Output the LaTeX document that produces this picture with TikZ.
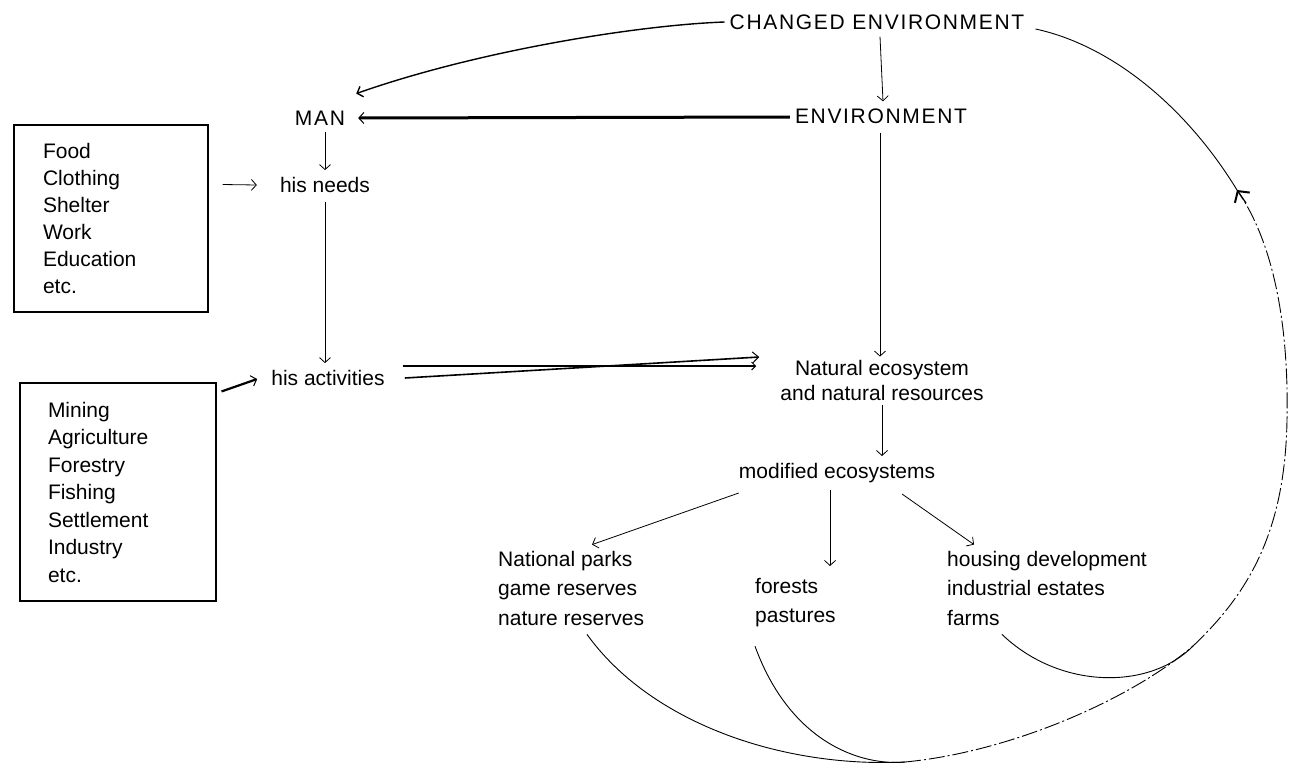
\documentclass[tikz,border=0pt]{standalone}
\usepackage{fontspec}
\setmainfont{Liberation Sans}
\newfontfamily\capsfont[LetterSpace=8]{Liberation Sans}
\usetikzlibrary{arrows.meta,calc}
\begin{document}
\begin{tikzpicture}[x=1pt,y=-1pt,
  lbl/.style={inner sep=1pt,font=\fontsize{21}{27}\selectfont},
  caplbl/.style={inner sep=1pt,font=\capsfont\fontsize{21}{25}\selectfont},
  listbox/.style={draw,line width=1.1pt,align=left,font=\fontsize{21}{27}\selectfont,inner ysep=0pt},
  arr/.style={line width=0.8pt,-{Straight Barb[length=5pt,width=11pt]}},
  thickarr/.style={line width=3pt,-{Straight Barb[length=5pt,width=11pt,line width=1pt]}},
  loopline/.style={line width=0.9pt},
  dashline/.style={line width=0.9pt,dash pattern=on 16pt off 3pt on 2pt off 3pt}]
\useasboundingbox (0,0) rectangle (1289,769);
\fill[white] (0,0) rectangle (1289,769);

% nodes
\node[caplbl] (ce) at (877,22) {CHANGED ENVIRONMENT};
\node[caplbl] (env) at (881,116) {ENVIRONMENT};
\node[caplbl] (man) at (320,118) {MAN};
\node[lbl] (needs) at (325,185) {his needs};
\node[lbl] (act) at (328,378) {his activities};
\node[lbl,align=center,font=\fontsize{21}{25}\selectfont] (nat) at (882,380) {Natural ecosystem\\and natural resources};
\node[lbl] (mod) at (837,473) {modified ecosystems};
\node[lbl,anchor=west,align=left,font=\fontsize{21}{29.5}\selectfont] (parks) at (497,588) {National parks\\game reserves\\nature reserves};
\node[lbl,anchor=west,align=left,font=\fontsize{21}{29.5}\selectfont] (forests) at (754,602.5) {forests\\pastures};
\node[lbl,anchor=west,align=left,font=\fontsize{21}{29.5}\selectfont] (housing) at (946,588) {housing development\\industrial estates\\farms};

\node[listbox,minimum width=194pt,minimum height=187pt,text width=136pt,inner xsep=29pt] (box1) at (111,218.5)
  {Food\\Clothing\\Shelter\\Work\\Education\\etc.};
\node[listbox,minimum width=196pt,minimum height=218pt,text width=140pt,inner xsep=28pt,font=\fontsize{21}{27.5}\selectfont] (box2) at (118,492)
  {Mining\\Agriculture\\Forestry\\Fishing\\Settlement\\Industry\\etc.};

% connectors
\coordinate (mantip) at ($(man.north east)+(10,-16)$);
\draw[arr,line width=1.4pt] ($(ce.west)+(-4,0)$) .. controls (640,25) and (480,50) .. (mantip);
\draw[arr] ($(ce.south)+(3,6)$) -- ($(env.north)+(2,-6)$);
\draw[thickarr] ($(env.west)+(-4,1)$) -- ($(man.east)+(12,0)$);
\draw[arr] ($(man.south)+(5,6)$) -- ($(needs.north)+(0,-6)$);
\draw[arr] ($(needs.south)+(0,8)$) -- ($(act.north)+(-3,-6)$);
\draw[arr] ($(box1.east)+(14,-34)$) -- ($(needs.west)+(-22,0)$);
\draw[thickarr,line width=2.2pt] ($(box2.north east)+(5,9)$) -- ($(act.west)+(-13,1)$);
\draw[arr] ($(env.south)+(-1,8)$) -- ($(env.south |- nat.north)+(-1,-2)$);
\draw[line width=2.6pt,-{Straight Barb[length=4pt,width=8pt,line width=1pt]}] ($(act.east)+(17,-12)$) -- ($(nat.west)+(-23,-14)$);
\draw[line width=1.6pt,-{Straight Barb[length=6pt,width=11pt,line width=1pt]}] ($(act.east)+(19,0)$) -- ($(nat.west)+(-20,-23)$);
\draw[arr] ($(nat.south)+(0,4)$) -- ($(mod.north)+(45,-6)$);
\draw[arr] ($(mod.south west)+(1,9)$) -- ($(parks.north west)+(95,-5)$);
\coordinate (down) at (830,566);
\draw[arr] ($(mod.south)+(-7,6)$) -- (down);
\draw[arr] ($(mod.south)+(65,10)$) -- ($(housing.north west)+(28,-5)$);

% feedback loop
\coordinate (bot) at (905,762);
\coordinate (join) at (1193,646);
\coordinate (side) at (1287,420);
\coordinate (tip) at (1237,190);
\draw[loopline] ($(parks.south west)+(90,8)$) .. controls (650,722) and (780,768) .. (bot);
\draw[loopline] ($(forests.south west)+(1,18)$) .. controls (790,742) and (860,766) .. (bot);
\draw[loopline] ($(housing.south west)+(56,8)$) .. controls (1060,690) and (1150,690) .. (join);
\draw[dashline] (bot) .. controls (1010,752) and (1130,700) .. (join);
\draw[dashline] (join) .. controls (1250,592) and (1285,530) .. (side) .. controls (1289,320) and (1272,240) .. (tip);
\draw[line width=1.2pt,-{Straight Barb[length=8pt,width=18pt,line width=2pt]}] ($(tip)+(9,13)$) -- (tip);
\draw[loopline] (tip) .. controls (1185,105) and (1110,45) .. ($(ce.east)+(10,7)$);
\end{tikzpicture}
\end{document}
